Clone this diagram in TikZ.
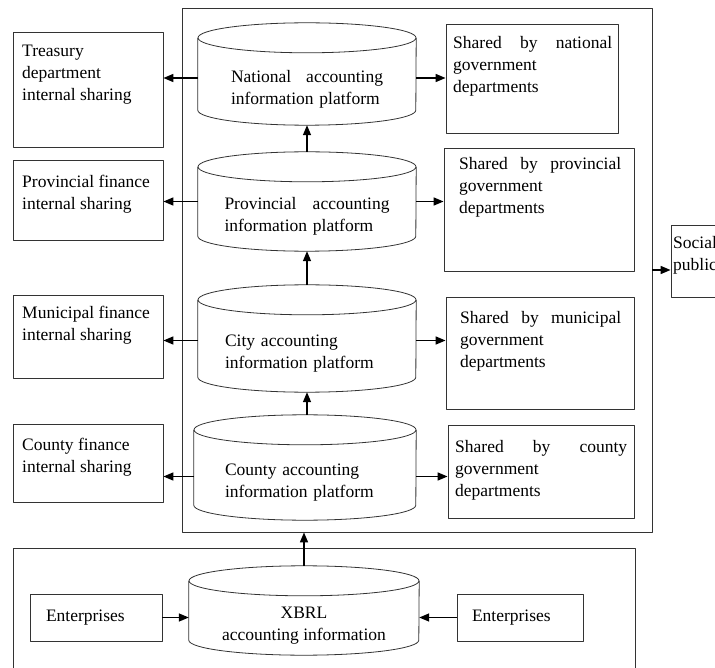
\documentclass[tikz,border=0pt]{standalone}
\usepackage{fontspec}
\setmainfont{Liberation Serif}
\usetikzlibrary{arrows.meta}
\tikzset{
  box/.style={draw=black!80, line width=0.8pt, inner sep=0pt},
  boxtext/.style={anchor=north west, align=left, inner sep=0pt},
  platform/.style={inner sep=0pt, align=left},
  cyl/.style={draw=black!80, line width=0.8pt},
  conn/.style={->, line width=1.5pt},
}
\begin{document}
\begin{tikzpicture}[x=1pt, y=-1pt, font=\fontsize{17.5}{22}\selectfont, line join=round, >={Triangle[length=10pt,width=8pt]}]
\useasboundingbox (0,0) rectangle (715,668);
\clip (0,0) rectangle (715,668);
% frames
\node[box, minimum width=470pt, minimum height=524pt] (upper) at (417,270) {};
\node[box, minimum width=622pt, minimum height=130pt] (lower) at (324,613) {};
% left boxes
\node[box, minimum width=150pt, minimum height=115pt] (treas) at (88,89.5) {};
\node[box, minimum width=150pt, minimum height=80pt] (provfin) at (88,200) {};
\node[box, minimum width=150pt, minimum height=83pt] (munfin) at (88,336.5) {};
\node[box, minimum width=150pt, minimum height=78pt] (cntyfin) at (88,463) {};
\node[boxtext] (treas-txt) at (22,45) {Treasury\\department\\internal sharing};
\node[boxtext] (provfin-txt) at (22,175) {Provincial finance\\internal sharing};
\node[boxtext] (munfin-txt) at (22,306) {Municipal finance\\internal sharing};
\node[boxtext] (cntyfin-txt) at (22,438) {County finance\\internal sharing};
% right boxes
\node[box, minimum width=172pt, minimum height=109pt] (natsh) at (532,78.5) {};
\node[box, minimum width=190pt, minimum height=123pt] (provsh) at (539,209.5) {};
\node[box, minimum width=188pt, minimum height=112pt] (munsh) at (540,353) {};
\node[box, minimum width=186pt, minimum height=93pt] (cntysh) at (541,471.5) {};
\node[boxtext, text width=159pt] (natsh-txt) at (453,36) {Shared\hfill by\hfill national\\government\\departments};
\node[boxtext, text width=162pt] (provsh-txt) at (459,157) {Shared\hfill by\hfill provincial\\government\\departments};
\node[boxtext, text width=161pt] (munsh-txt) at (460,311) {Shared\hfill by\hfill municipal\\government\\departments};
\node[boxtext, text width=172pt] (cntysh-txt) at (455,440) {Shared\hfill by\hfill county\\government\\departments};
\node[box, minimum width=80pt, minimum height=72pt] (social) at (711,261) {};
\node[boxtext] (social-txt) at (673,236) {Social\\public};
% platforms
\node[platform, minimum width=218pt, minimum height=72pt, text width=152pt] (natl) at (307,89) {National\hfill accounting\\information platform};
\node[platform, minimum width=218pt, minimum height=69pt, text width=165pt] (prov) at (307,216.5) {Provincial\hfill accounting\\information platform};
\node[platform, minimum width=218pt, minimum height=77pt, text width=164pt] (city) at (307,353.5) {City accounting\\information platform};
\node[platform, minimum width=222pt, minimum height=75pt, text width=160pt] (cnty) at (305,482.5) {County accounting\\information platform};
\node[platform, align=center, minimum width=230pt, minimum height=59pt] (xbrl) at (304,625.5) {XBRL\\accounting information};
\foreach \n/\r in {natl/109pt, prov/109pt, city/109pt, cnty/111pt, xbrl/115pt}{
  \draw[cyl] ([yshift=15pt]\n.north) ellipse [x radius=\r, y radius=15pt];
  \draw[cyl] ([yshift=15pt]\n.north west) -- ([yshift=15pt]\n.south west) arc [start angle=180, end angle=360, x radius=\r, y radius=15pt] -- ([yshift=15pt]\n.north east);
  \coordinate (\n-t) at ([yshift=30pt]\n.north);
}
% enterprises
\node[box, minimum width=132pt, minimum height=47pt, text width=100pt, align=left] (entl) at (96,617.5) {Enterprises};
\node[box, minimum width=126pt, minimum height=47pt, text width=96pt, align=left] (entr) at (520,617.5) {Enterprises};
% arrows
\draw[conn] (prov-t) -- (natl.south);
\draw[conn] (city-t) -- (prov.south);
\draw[conn] (cnty-t -| city.south) -- (city.south);
\draw[conn] (xbrl-t) -- (xbrl-t |- upper.south);
\foreach \n/\s in {natl/11pt, prov/15pt, city/13pt, cnty/6pt}{
  \coordinate (\n-m) at ([yshift=\s]\n.center);
}
\foreach \n/\l/\r in {natl/treas/natsh, prov/provfin/provsh, city/munfin/munsh, cnty/cntyfin/cntysh}{
  \draw[conn] (\n-m -| \n.west) -- (\n-m -| \l.east);
  \draw[conn] (\n-m -| \n.east) -- (\n-m -| \r.west);
}
\draw[conn] (upper.east) -- (upper.east -| social.west);
\draw[conn] (entl.east) -- (entl.east -| xbrl.west);
\draw[conn] (entr.west) -- (entr.west -| xbrl.east);
\end{tikzpicture}
\end{document}
